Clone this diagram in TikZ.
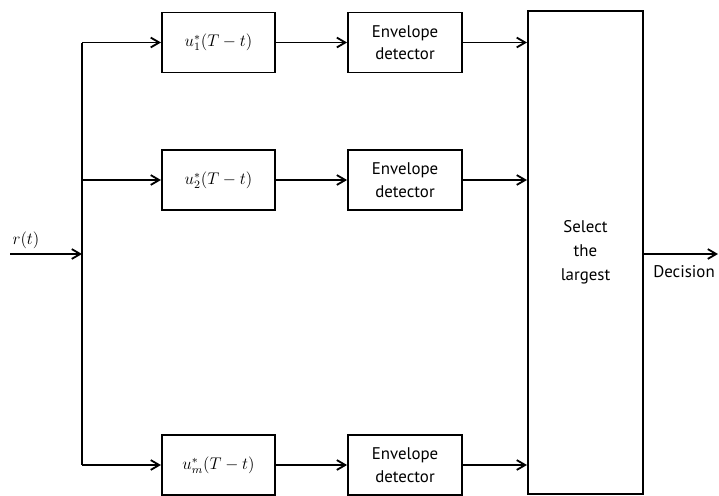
\documentclass[tikz,border=0pt]{standalone}
\usepackage{fontspec}
\setsansfont{PT Sans}
\usetikzlibrary{arrows.meta,calc}
\tikzset{
    filter/.style = {rectangle,
                    fill=white,
                    draw=black,
                    text=black,
                    line width=1.3pt,
                    font=\large,
                    minimum width=2.83cm,
                    minimum height=1.5cm,
                    inner sep=0pt},
    envdet/.style = {rectangle,
                    fill=white,
                    draw=black,
                    text=black,
                    line width=1.3pt,
                    align=center,
                    font=\sffamily\fontsize{12}{16}\selectfont,
                    minimum width=2.85cm,
                    minimum height=1.5cm,
                    inner sep=0pt},
    select/.style = {rectangle,
                    fill=white,
                    draw=black,
                    text=black,
                    line width=1.3pt,
                    align=center,
                    font=\sffamily\fontsize{12}{17}\selectfont,
                    minimum width=2.88cm,
                    minimum height=12.07cm,
                    inner sep=0pt},
    label/.style =  {font=\sffamily\fontsize{12}{16}\selectfont,
                    inner sep=1pt},
    >={Straight Barb[length=6pt,width=7pt]},
    draw=black}

\begin{document}
\begin{tikzpicture}[x=0.025cm,y=-0.025cm]
                \useasboundingbox (0,0) rectangle (719,495);
                \node[filter]       (F1) at (218.5,42.5)    {$u_1^{*}(T-t)$};
                \node[filter]       (F2) at (218.5,180)     {$u_2^{*}(T-t)$};
                \node[filter]       (F3) at (218.5,465)     {$u_m^{*}(T-t)$};
                \node[envdet]       (E1) at (405,42.5)      {Envelope\\detector};
                \node[envdet]       (E2) at (405,180)       {Envelope\\detector};
                \node[envdet]       (E3) at (405,465)       {Envelope\\detector};
                \node[select]       (S)  at (585.5,252.5)   {Select\\the\\largest};
                \coordinate         (in)   at (10,254);
                \coordinate         (J)    at (82,254);
                \coordinate         (B1)   at (82,42.5);
                \coordinate         (B2)   at (82,180);
                \coordinate         (B3)   at (82,465);
                \coordinate         (out)  at (718,254);
                \node[label]        (r)    at (26,240)      {$r(t)$};
                \node[label]        (dec)  at (684,272)     {Decision};
                \draw [line width=1.3pt] (B1) -- (B3);
                \path [line width=1.3pt,->]  (in) edge (J)
                                        (B1) edge (F1)
                                        (B2) edge (F2)
                                        (B3) edge (F3)
                                        (F1) edge (E1)
                                        (F2) edge (E2)
                                        (F3) edge (E3)
                                        (E1) edge (E1 -| S.west)
                                        (E2) edge (E2 -| S.west)
                                        (E3) edge (E3 -| S.west)
                                        (S.east |- out) edge (out);
\end{tikzpicture}
\end{document}
